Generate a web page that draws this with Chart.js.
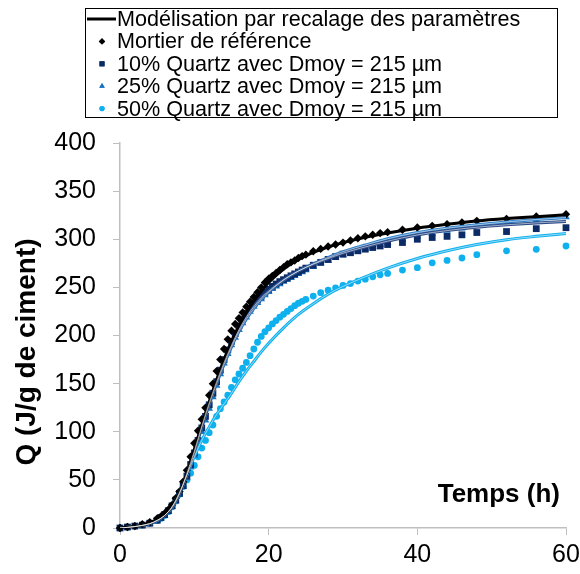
<!DOCTYPE html>
<html>
<head>
<meta charset="utf-8">
<script src="https://cdn.jsdelivr.net/npm/chart.js@4.4.0/dist/chart.umd.min.js"></script>
<style>
  body { margin: 0; background: #fff; }
  #wrap { width: 580px; height: 574px; }
</style>
</head>
<body>
<div id="wrap"><canvas id="heatChart" width="580" height="574"></canvas></div>
<script>
// measured points (h)
const timeData = [0, 1, 2, 3, 4, 5,
    5.5, 6, 6.5, 7, 7.5, 8, 8.5, 9, 9.5, 10, 10.5, 11, 11.5, 12, 12.5, 13, 13.5, 14, 14.5, 15,
    15.5, 16, 16.5, 17, 17.5, 18, 18.5, 19, 19.5, 20, 20.5, 21, 21.5, 22, 22.5, 23, 23.5, 24, 24.5, 25,
    26, 27, 28, 29, 30, 31, 32, 33, 34, 35, 36,
    38, 40, 42, 44, 46, 48, 52, 56, 60];

const refData = [0, 1, 2, 4, 6, 10,
    12, 15, 19, 24, 31, 38, 48, 60, 74, 88, 101, 113, 125, 138, 150, 163, 175, 186, 196, 205,
    212, 218, 224, 230, 235, 240, 245, 250, 255, 259, 262, 265, 268, 271, 274, 276, 278, 280.5, 282.5, 284,
    287.5, 290, 292.5, 294.5, 296.5, 298.7, 301, 303, 304.6, 306.4, 307.4,
    309.8, 312.2, 313.9, 315.7, 317.4, 319.1, 321.2, 323.6, 326];

const q10Data = [0, 1, 2, 3, 5, 8,
    11, 14, 18, 23, 29, 36, 44, 54, 66, 78, 91, 104, 116, 128, 140, 152, 164, 175, 185, 194,
    202, 210, 217, 223, 228, 233, 237, 241, 245, 248, 251, 253.5, 256, 258, 260, 262, 264, 266, 268, 270,
    273, 276, 279, 282, 284.5, 286, 288, 289.7, 291.4, 293, 294.5,
    296.6, 300, 301.8, 303, 304.6, 307, 308, 311, 312];

const q25Data = [0, 1, 2, 3, 5, 8,
    10, 13, 17, 22, 28, 35, 43, 52, 63, 75, 87, 100, 112, 124, 136, 148, 160, 171, 181, 190,
    198, 206, 213, 219, 225, 230, 234, 238, 242, 245.5, 248.5, 251, 253.5, 256, 258, 260, 262, 264, 266, 268,
    271.5, 275, 278, 281, 283.5, 286, 288.5, 290.5, 292.5, 294.5, 296.5,
    300, 303, 306, 309, 311.5, 314, 317, 320, 323];

const q50Data = [0, 1, 2, 3, 5, 8,
    10, 13, 17, 22, 28, 35, 43, 50, 57, 65, 74, 83, 91, 99, 107, 116, 124, 131, 138, 146,
    154, 160, 166, 172, 179, 186, 193, 199, 204, 208, 212, 215.5, 219, 222, 225, 228, 231, 233.5, 235.5, 237.5,
    241, 244.5, 247, 249.5, 252, 254, 256.5, 258.5, 261, 263, 264.5,
    268, 270.5, 275.5, 278, 280.5, 284, 288, 289.5, 293];

// model curves
const timeModel = [0, 2, 4, 5, 6, 7, 8, 9, 10, 11, 12, 13, 14, 15, 16, 17, 18, 19, 20,
    22, 24, 26, 28, 30, 33, 36, 40, 44, 48, 52, 56, 60];
const refModel = [0, 1.5, 5, 9, 14, 23, 37, 57, 82, 107, 131, 154, 175, 194, 210, 224, 236, 246, 255,
    269, 279, 286.5, 292, 296.5, 302, 306.5, 311.5, 315.5, 319, 321.5, 323.5, 325.5];
const q10Model = [0, 1.5, 4.5, 8, 13, 22, 36, 57, 80, 106, 130, 152, 172, 190, 206, 219, 230, 239, 246,
    258, 267, 274, 280, 285.5, 292, 298, 304.5, 309, 312.5, 315, 317, 318.5];
const q25Model = [0, 1.5, 4.5, 8, 13, 21, 35, 55, 78, 104, 128, 150, 170, 188, 204, 217, 228, 237.5, 245,
    257.5, 267, 274.5, 281, 287, 294, 300.5, 307, 311.5, 315, 318, 320.5, 322.5];
const q50Model = [0, 1.5, 4.5, 7.5, 13, 22, 37, 55, 74, 91, 105, 118, 129, 140, 152, 163, 173, 183, 192,
    208, 222, 233, 243, 251, 261, 270, 280, 288, 294.5, 299.5, 303, 306];

const xTicks = [0, 20, 40, 60];
const yTicks = [0, 50, 100, 150, 200, 250, 300, 350, 400];

const labels = [
    "Modélisation par recalage des paramètres",
    "Mortier de référence",
    "10% Quartz avec Dmoy = 215 µm",
    "25% Quartz avec Dmoy = 215 µm",
    "50% Quartz avec Dmoy = 215 µm"
];

const FONT = "'Liberation Sans', Arial, sans-serif";
const BLACK = "#000000";
const NAVY = "#0b2a66";
const BLUE = "#1574c4";
const LIGHT = "#0fb0ee";

function pts(xs, ys) {
    return xs.map((x, i) => ({ x: x, y: ys[i] }));
}

function modelSet(ys, color, width) {
    return {
        data: pts(timeModel, ys),
        showLine: true,
        borderColor: color,
        borderWidth: width,
        pointRadius: 0,
        cubicInterpolationMode: "monotone",
        order: 1
    };
}

function markerSet(ys, color, style, radius) {
    return {
        data: pts(timeData, ys),
        showLine: false,
        pointStyle: style,
        pointRadius: radius,
        pointBackgroundColor: color,
        pointBorderColor: color,
        pointBorderWidth: 0,
        clip: false,
        order: 3
    };
}

// white core on the coloured model lines
function coreSet(ys) {
    const s = modelSet(ys, "rgba(255,255,255,0.55)", 1);
    s.order = 0;
    return s;
}

const legendRows = [
    { kind: "line", color: BLACK },
    { kind: "rectRot", color: BLACK, radius: 3.2 },
    { kind: "rect", color: NAVY, radius: 3.6 },
    { kind: "triangle", color: BLUE, radius: 3.2 },
    { kind: "circle", color: LIGHT, radius: 2.6 }
];

const decor = {
    id: "decor",
    afterDraw(chart) {
        const ctx = chart.ctx;
        ctx.save();

        // legend box
        ctx.strokeStyle = "#000";
        ctx.lineWidth = 1;
        ctx.strokeRect(85.5, 8.5, 472, 109);
        ctx.font = `21.6px ${FONT}`;
        ctx.textBaseline = "middle";
        ctx.textAlign = "left";
        legendRows.forEach((row, i) => {
            const y = 19 + i * 22.4;
            if (row.kind === "line") {
                ctx.strokeStyle = row.color;
                ctx.lineWidth = 3;
                ctx.beginPath();
                ctx.moveTo(87, y);
                ctx.lineTo(116, y);
                ctx.stroke();
            } else {
                ctx.fillStyle = row.color;
                ctx.strokeStyle = row.color;
                Chart.helpers.drawPoint(ctx, { pointStyle: row.kind, radius: row.radius, rotation: 0, borderWidth: 0 }, 102, y);
                ctx.fill();
            }
            ctx.fillStyle = "#000";
            ctx.fillText(labels[i], 117, y + 1);
        });

        // axis titles
        ctx.font = `bold 26px ${FONT}`;
        ctx.fillStyle = "#000";
        ctx.textAlign = "right";
        ctx.textBaseline = "alphabetic";
        ctx.fillText("Temps (h)", 560, 502);

        ctx.font = `bold 28px ${FONT}`;
        ctx.translate(27, 352);
        ctx.rotate(-Math.PI / 2);
        ctx.textAlign = "center";
        ctx.textBaseline = "middle";
        ctx.fillText("Q (J/g de ciment)", 0, 0);
        ctx.restore();
    }
};

const axisColor = "#bfbfbf";

new Chart(document.getElementById("heatChart"), {
    type: "scatter",
    data: {
        datasets: [
            modelSet(refModel, BLACK, 3),
            modelSet(q10Model, "#2b4a86", 3),
            coreSet(q10Model),
            modelSet(q25Model, "#2f7fc6", 3),
            coreSet(q25Model),
            modelSet(q50Model, LIGHT, 3),
            coreSet(q50Model),
            markerSet(refData, BLACK, "rectRot", 4.2),
            markerSet(q10Data, NAVY, "rect", 4.8),
            markerSet(q25Data, BLUE, "triangle", 4.4),
            markerSet(q50Data, LIGHT, "circle", 3.4)
        ]
    },
    options: {
        responsive: false,
        animation: false,
        devicePixelRatio: 1,
        layout: { padding: { left: 0, right: 14, top: 143, bottom: 0 } },
        plugins: {
            legend: { display: false },
            tooltip: { enabled: false }
        },
        scales: {
            x: {
                type: "linear",
                min: 0,
                max: 60,
                afterFit: s => { s.height = 46; s.paddingLeft = 0; s.paddingRight = 0; },
                afterBuildTicks: s => { s.ticks = xTicks.map(v => ({ value: v })); },
                ticks: { color: "#000", font: { family: FONT, size: 25 }, padding: 5, maxRotation: 0 },
                grid: { drawOnChartArea: false, drawTicks: true, tickLength: 7, color: axisColor },
                border: { display: true, color: axisColor, width: 1.5 }
            },
            y: {
                type: "linear",
                min: 0,
                max: 400,
                afterFit: s => { s.width = 120; s.paddingTop = 0; s.paddingBottom = 0; },
                afterBuildTicks: s => { s.ticks = yTicks.map(v => ({ value: v })); },
                ticks: { color: "#000", font: { family: FONT, size: 25 }, padding: 17 },
                grid: { drawOnChartArea: false, drawTicks: true, tickLength: 7, color: axisColor },
                border: { display: true, color: axisColor, width: 1.5 }
            }
        }
    },
    plugins: [decor]
});
</script>
</body>
</html>
